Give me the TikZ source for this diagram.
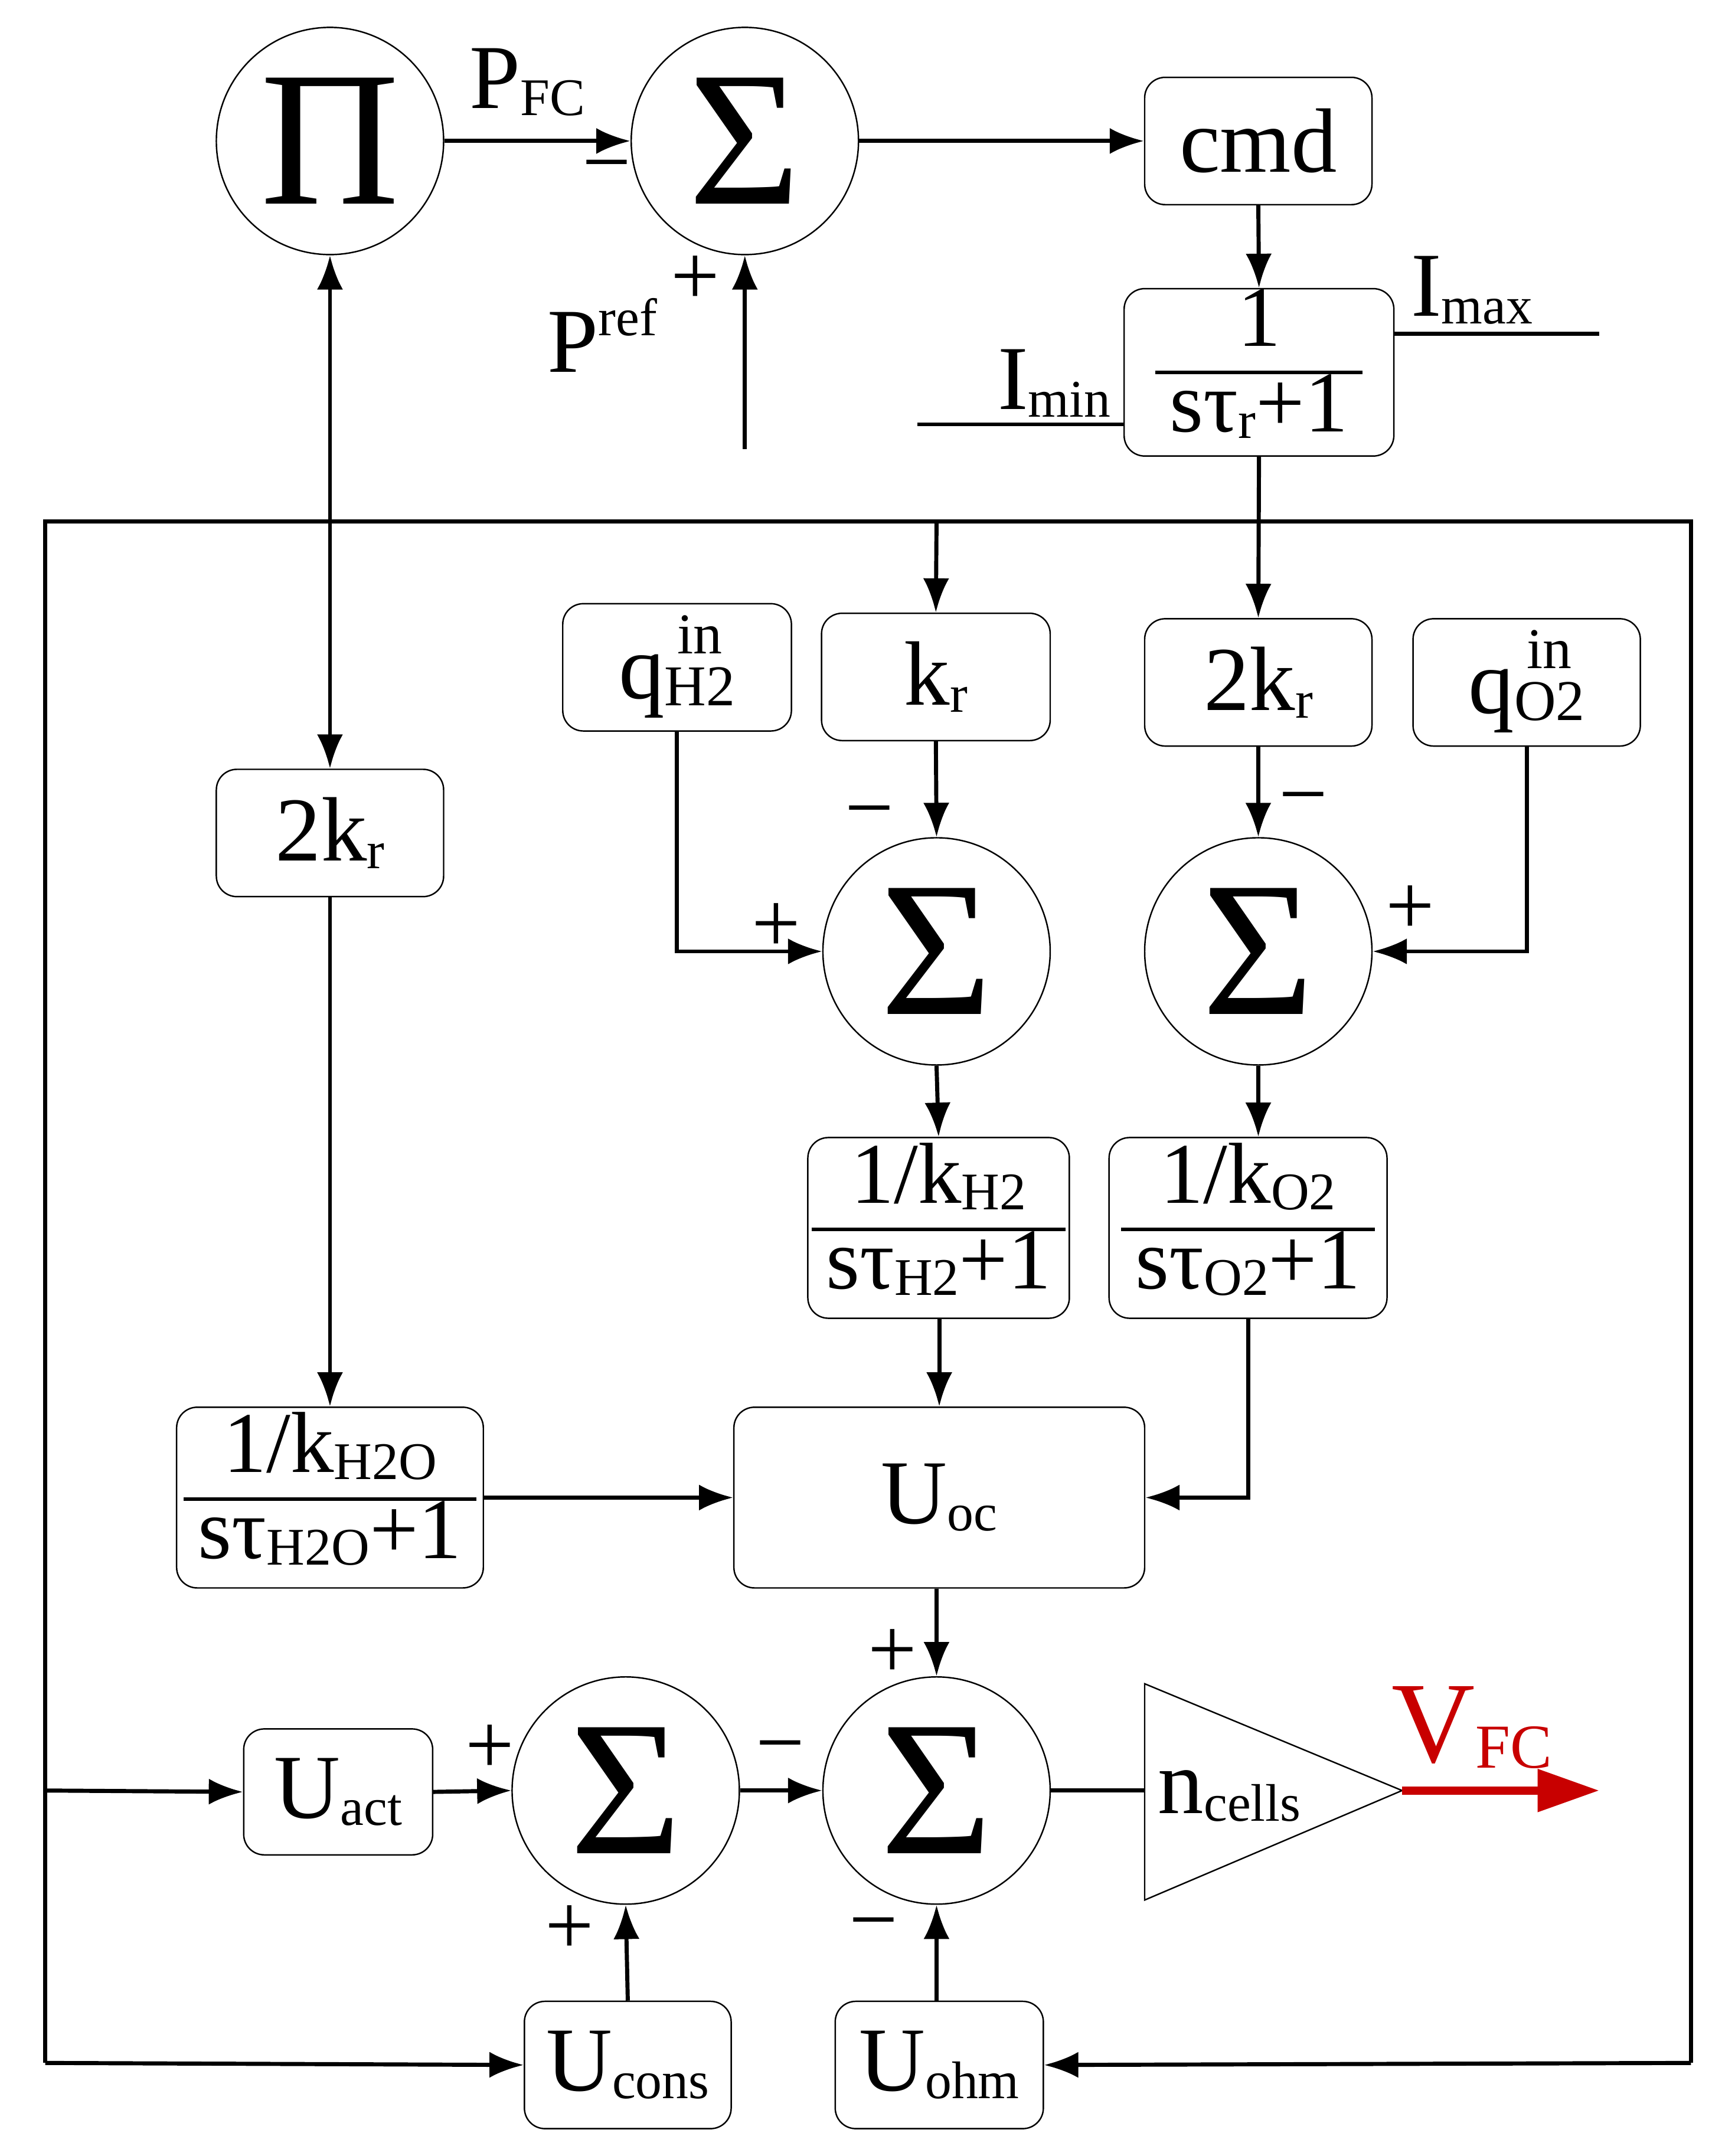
\documentclass[tikz,border=0pt]{standalone}
\usepackage{fontspec}
\setmainfont{Liberation Serif}
\usetikzlibrary{arrows.meta}
\newcommand\ffrac[2]{\setlength\arrayrulewidth{1.6pt}\renewcommand\arraystretch{0.85}\begin{tabular}{@{\,}c@{\,}}#1\\\hline #2\end{tabular}}
\newcommand\sub[1]{\raisebox{-0.08em}{\fontsize{22}{22}\selectfont #1}}
\newcommand\inq[1]{q\raisebox{-0.08em}{\fontsize{24}{24}\selectfont\renewcommand\arraystretch{0.8}\begin{tabular}[b]{@{}c@{}}in\\#1\end{tabular}}}
\begin{document}
\begin{tikzpicture}[x=0.02cm,y=-0.02cm,
 font=\fontsize{38}{42}\selectfont,
 box/.style 2 args={draw,fill=white,rounded corners=0.3cm,line width=0.6pt,minimum width=#1*0.02cm,minimum height=#2*0.02cm,inner sep=0pt},
 sum/.style={draw,circle,line width=0.6pt,minimum size=166*0.02cm,inner sep=0pt,font=\fontsize{80}{80}\selectfont},
 ln/.style={line width=1.7pt},
 ar/.style={ln,-{Latex[length=0.5cm,width=0.38cm]}},
 sg/.style={font=\fontsize{36}{36}\selectfont},
 fr/.style={font=\fontsize{36}{40}\selectfont}]
\useasboundingbox (0,0) rectangle (1267,1575);
\definecolor{vred}{RGB}{200,0,0}
% top row
\node[sum] (pi) at (241,103) {Π};
\node[sum] (st) at (544,103) {Σ};
\node[box={166}{93}] (cmd) at (919,103) {cmd};
\node[box={197}{115},fr] (tf) at (919.5,272) {\ffrac{1}{sτ\sub{r}+1}};
\draw[ar] (pi.east) -- (st.west);
\draw[ar] (st.east) -- (cmd.west);
\draw[ar] (cmd.south) -- (tf.north);
\coordinate (pr) at (544,328);
\draw[ar] (pr) -- (st.south);
\node at (385,60) {P\sub{FC}};
\node[sg] at (443,128) {−};
\node[sg] at (508,205) {+};
\node at (440,245) {P\raisebox{0.4em}{\fontsize{22}{22}\selectfont ref}};
\coordinate (imx) at (1168,244);
\coordinate (imn) at (670,310);
\draw[ln] (tf.east |- imx) -- (imx);
\draw[ln] (imn) -- (tf.west |- imn);
\node at (1075,212) {I\sub{max}};
\node at (770,280) {I\sub{min}};
% big loop
\coordinate (c1) at (33,1507);
\coordinate (c2) at (33,381);
\coordinate (c3) at (1235,381);
\coordinate (c4) at (1235,1507);
\draw[ln] (c1) -- (c2) -- (c3) -- (c4);
\coordinate (t1) at (684,381);
% middle
\node[box={166}{93}] (k2l) at (241,608.5) {2k\sub{r}};
\node[box={224}{132},fr] (kh2o) at (241,1094) {\ffrac{1/k\sub{H2O}}{sτ\sub{H2O}+1}};
\draw[ln,{Latex[length=0.5cm,width=0.38cm]}-{Latex[length=0.5cm,width=0.38cm]}] (pi.south) -- (k2l.north);
\draw[ar] (k2l.south) -- (kh2o.north);
\node[box={167}{93}] (kr) at (683.5,494.5) {k\sub{r}};
\node[box={167}{93}] (qh2) at (494.5,487.5) {\inq{H2}};
\node[box={166}{93}] (k2r) at (919,498.5) {2k\sub{r}};
\node[box={166}{93}] (qo2) at (1115,498.5) {\inq{O2}};
\draw[ar] (t1) -- (kr.north);
\draw[ar] (tf.south) -- (k2r.north);
\node[sum] (sl) at (684,695) {Σ};
\node[sum] (sr) at (919,695) {Σ};
\draw[ar] (kr.south) -- (sl.north);
\draw[ar] (qh2.south) |- (sl.west);
\draw[ar] (k2r.south) -- (sr.north);
\draw[ar] (qo2.south) |- (sr.east);
\node[sg] at (635,600) {−};
\node[sg] at (567,678) {+};
\node[sg] at (952,590) {−};
\node[sg] at (1030,665) {+};
\node[box={191}{132},fr] (kh2) at (685.5,897) {\ffrac{1/k\sub{H2}}{sτ\sub{H2}+1}};
\node[box={203}{132},fr] (ko2) at (911.5,897) {\ffrac{1/k\sub{O2}}{sτ\sub{O2}+1}};
\draw[ar] (sl.south) -- (kh2.north);
\draw[ar] (sr.south) -- (sr.south |- ko2.north);
\node[box={300}{132}] (uoc) at (686,1094) {U\sub{oc}};
\draw[ar] (kh2.south -| uoc.north) -- (uoc.north);
\draw[ar] (ko2.south) |- (uoc.east);
\draw[ar] (kh2o.east) -- (uoc.west);
% bottom
\node[sum] (sbr) at (684,1308) {Σ};
\node[sum] (sbl) at (457,1308) {Σ};
\node[box={138}{92}] (uact) at (247,1309) {U\sub{act}};
\node[box={151}{93}] (ucons) at (458.5,1508.5) {U\sub{cons}};
\node[box={152}{93}] (uohm) at (686,1508.5) {U\sub{ohm}};
\draw[ar] (uoc.south -| sbr.north) -- (sbr.north);
\draw[ar] (33,1308) -- (uact.west);
\draw[ar] (uact.east) -- (sbl.west);
\draw[ar] (sbl.east) -- (sbr.west);
\draw[ar] (ucons.north) -- (sbl.south);
\draw[ar] (uohm.north -| sbr.south) -- (sbr.south);
\draw[ar] (c1) -- (ucons.west);
\draw[ar] (c4) -- (uohm.east);
\node[sg] at (652,1208) {+};
\node[sg] at (358,1278) {+};
\node[sg] at (570,1283) {−};
\node[sg] at (416,1410) {+};
\node[sg] at (638,1412) {−};
\coordinate (ta) at (836,1230);
\coordinate (tb) at (836,1388);
\coordinate (tc) at (1024,1308);
\draw[line width=0.6pt] (ta) -- (tc) -- (tb) -- cycle;
\draw[ln] (sbr.east) -- (836,1308);
\node at (898,1312) {n\sub{cells}};
\coordinate (vo) at (1168,1308);
\draw[vred,line width=3.4pt,-{Triangle[length=0.9cm,width=0.6cm]}] (tc) -- (vo);
\node[text=vred,font=\fontsize{48}{48}\selectfont] at (1075,1262) {V\raisebox{-0.05em}{\fontsize{26}{26}\selectfont FC}};
\end{tikzpicture}
\end{document}
